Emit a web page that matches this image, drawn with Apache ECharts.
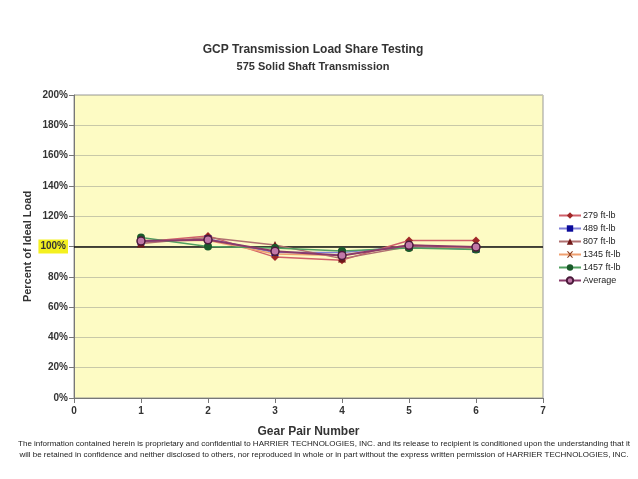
<!DOCTYPE html>
<html><head><meta charset="utf-8">
<script src="https://cdn.jsdelivr.net/npm/echarts@6/dist/echarts.min.js"></script>
<style>html,body{margin:0;padding:0;background:#fff}#c{width:638px;height:479px}</style>
</head><body><div id="c"></div>
<script>
var gearPairs = [1, 2, 3, 4, 5, 6];
var s279 = [103, 107, 93, 91, 104, 104];
var s489 = [103, 105, 96, 96, 100, 98];
var s807 = [102, 106, 101, 92, 100, 99];
var s1345 = [104, 104, 95, 94, 101, 99];
var s1457 = [106, 100, 99, 97, 99, 98];
var sAvg = [103.6, 104.4, 96.8, 94, 100.8, 99.6];
var seriesNames = ['279 ft-lb', '489 ft-lb', '807 ft-lb', '1345 ft-lb', '1457 ft-lb', 'Average'];
var referenceValue = 100;

var F = 'Liberation Sans, Arial, sans-serif';
function pairs(v){ return gearPairs.map(function(x,i){ return [x, v[i]]; }); }
var xPath = 'path://M0,0 L2,0 L5,3 L8,0 L10,0 L6,5 L10,10 L8,10 L5,7 L2,10 L0,10 L4,5 Z';
var defs = [
  {d: s279, line: '#d0606a', mk: '#a02828', sym: 'diamond', size: 8},
  {d: s489, line: '#7f7fd8', mk: '#0a0a9a', sym: 'rect', size: 7},
  {d: s807, line: '#b07070', mk: '#701818', sym: 'triangle', size: 8},
  {d: s1345, line: '#f0a070', mk: '#904020', sym: xPath, size: 6},
  {d: s1457, line: '#50a060', mk: '#1a5a2a', sym: 'circle', size: 8},
  {d: sAvg, line: '#8a3a6a', mk: '#c078a8', sym: 'circle', size: 8, border: '#4a1a3a'}
];
var series = defs.map(function(s, i){
  return {
    name: seriesNames[i], type: 'line', data: pairs(s.d),
    symbol: s.sym, symbolSize: s.size, showAllSymbol: true,
    lineStyle: {color: s.line, width: i === 5 ? 2 : 1.5},
    itemStyle: {color: s.mk, borderColor: s.border || s.mk, borderWidth: s.border ? 1.5 : 0},
    z: 3 + i
  };
});
series[0].markLine = {
  silent: true, symbol: 'none', label: {show: false},
  lineStyle: {color: '#111', width: 1.6, type: 'solid'},
  data: [{yAxis: referenceValue}], z: 2
};

var chart = echarts.init(document.getElementById('c'));
chart.setOption({
  animation: false,
  backgroundColor: '#fff',
  title: [
    {text: 'GCP Transmission Load Share Testing', left: 308, top: 39, textAlign: 'center',
     textStyle: {fontFamily: F, fontSize: 12, fontWeight: 'bold', color: '#333'}},
    {text: '575 Solid Shaft Transmission', left: 308, top: 56, textAlign: 'center',
     textStyle: {fontFamily: F, fontSize: 11, fontWeight: 'bold', color: '#333'}},
    {text: 'The information contained herein is proprietary and confidential to HARRIER TECHNOLOGIES, INC. and its release to recipient is conditioned upon the understanding that it', left: 319, top: 435, textAlign: 'center',
     textStyle: {fontFamily: F, fontSize: 8, fontWeight: 'normal', color: '#222'}},
    {text: 'will be retained in confidence and neither disclosed to others, nor reproduced in whole or in part without the express written permission of HARRIER TECHNOLOGIES, INC.', left: 319, top: 446, textAlign: 'center',
     textStyle: {fontFamily: F, fontSize: 8, fontWeight: 'normal', color: '#222'}}
  ],
  legend: {
    orient: 'vertical', left: 553, top: 206, itemGap: 4, itemWidth: 22, itemHeight: 8,
    data: seriesNames,
    textStyle: {fontFamily: F, fontSize: 9, color: '#222', padding: [0,0,0,-3]}
  },
  grid: {left: 74, right: 95, top: 95, bottom: 81, show: true, backgroundColor: '#fdfbc4', borderColor: '#999', borderWidth: 1},
  xAxis: {
    type: 'value', min: 0, max: 7, interval: 1,
    name: 'Gear Pair Number', nameLocation: 'middle', nameGap: 28, nameMoveOverlap: false,
    nameTextStyle: {fontFamily: F, fontSize: 12, fontWeight: 'bold', color: '#333'},
    axisLine: {lineStyle: {color: '#777'}}, axisTick: {show: true, lineStyle: {color: '#777'}},
    axisLabel: {fontFamily: F, fontSize: 10, fontWeight: 'bold', color: '#333', margin: 8},
    splitLine: {show: false}
  },
  yAxis: {
    type: 'value', min: 0, max: 200, interval: 20,
    name: 'Percent of Ideal Load', nameLocation: 'middle', nameGap: 41, nameMoveOverlap: false,
    nameTextStyle: {fontFamily: F, fontSize: 11, fontWeight: 'bold', color: '#333'},
    axisLine: {show: true, lineStyle: {color: '#777'}}, axisTick: {show: true, lineStyle: {color: '#777'}},
    axisLabel: {fontFamily: F, fontSize: 10, fontWeight: 'bold', color: '#333', margin: 6,
      formatter: function(v){ return v === referenceValue ? '{hl|' + v + '%}' : v + '%'; },
      rich: {hl: {backgroundColor: '#f4f020', fontFamily: F, fontSize: 10, fontWeight: 'bold', color: '#333', padding: [2,2,2,2]}}
    },
    splitLine: {lineStyle: {color: '#c8c8a8', width: 1}}
  },
  series: series
});
</script>
</body></html>
